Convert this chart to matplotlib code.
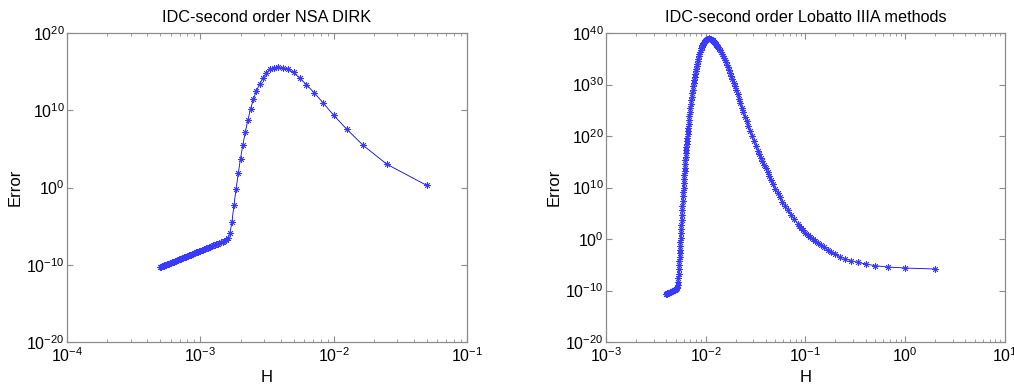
import numpy as np
import matplotlib
matplotlib.use('Agg')
import matplotlib.pyplot as plt
from matplotlib.ticker import NullLocator, LogLocator

plt.rcParams['font.family'] = ['Liberation Sans', 'DejaVu Sans']
plt.rcParams['axes.unicode_minus'] = False

# --- DATA ---
# left panel: NSA DIRK, interval length 0.05 cut into N steps (H = T/N)
T_left = 0.05
steps_left = [1, 2, 3, 4, 5, 6, 7, 8, 9, 10, 11, 12, 13, 14, 15, 16, 17, 18, 19, 20,
              21, 22, 23, 24, 25, 26, 27, 28, 29, 30, 31, 32, 33, 34, 35, 36, 37, 38, 39, 40,
              41, 42, 43, 44, 45, 46, 47, 48, 49, 50, 51, 52, 53, 54, 55, 56, 57, 58, 59, 60,
              61, 62, 63, 64, 65, 66, 67, 68, 69, 70, 71, 72, 73, 74, 75, 76, 77, 78, 79, 80,
              81, 82, 83, 84, 85, 86, 87, 88, 89, 90, 91, 92, 93, 94, 95, 96, 97, 98, 99, 100]
# log10 of the error
log_err_left = [0.26, 3.02, 5.44, 7.56, 9.35, 10.95, 12.26, 13.30, 14.16, 14.89,
                15.28, 15.46, 15.62, 15.53, 15.33, 14.80, 14.16, 13.38, 12.52, 11.44,
                10.19, 8.76, 7.17, 5.53, 3.75, 1.82, -0.21, -2.28, -4.48, -5.90,
                -6.55, -6.80, -6.90, -6.99, -7.08, -7.16, -7.25, -7.33, -7.41, -7.49,
                -7.56, -7.64, -7.71, -7.78, -7.85, -7.92, -7.98, -8.05, -8.11, -8.18,
                -8.24, -8.30, -8.36, -8.41, -8.47, -8.53, -8.58, -8.63, -8.69, -8.74,
                -8.79, -8.84, -8.89, -8.94, -8.99, -9.03, -9.08, -9.12, -9.17, -9.21,
                -9.26, -9.30, -9.34, -9.39, -9.43, -9.47, -9.51, -9.55, -9.59, -9.63,
                -9.66, -9.70, -9.74, -9.78, -9.81, -9.85, -9.89, -9.92, -9.95, -9.99,
                -10.02, -10.06, -10.09, -10.12, -10.16, -10.19, -10.22, -10.25, -10.28, -10.31]

# right panel: Lobatto IIIA, interval length 2
T_right = 2.0
steps_right = [1, 2, 3, 4, 5, 6, 7, 8, 9, 10, 11, 12, 13, 14, 15, 16, 17, 18, 19, 20,
               21, 22, 23, 24, 26, 28, 30, 32, 34, 36, 38, 40, 42, 44, 46, 48, 50, 52,
               54, 56, 58, 60, 63, 66, 69, 72, 75, 78, 81, 84, 87, 90, 93, 96, 99, 102,
               105, 108, 111, 114, 117, 120, 123, 126, 129, 132, 135, 138, 141, 144, 147,
               150, 153, 156, 159, 162, 165, 168, 171, 174, 177, 180, 183, 186, 189, 192,
               195, 198, 201, 204, 207, 210, 213, 216, 219, 222, 225, 228, 231, 234, 237,
               240, 243, 246, 249, 252, 255, 258, 261, 264, 267, 270, 273, 276, 279, 282,
               285, 288, 291, 294, 297, 300, 302, 304, 306, 308, 310, 312, 314, 316, 318,
               320, 322, 324, 326, 328, 330, 332, 334, 336, 338, 340, 342, 344, 346, 348,
               350, 352, 354, 356, 358, 360, 362, 364, 366, 368, 370, 372, 374, 376, 378,
               380, 385, 390, 395, 400, 405, 410, 415, 420, 425, 430, 435, 440, 445, 450,
               455, 460, 465, 470, 475, 480, 485, 490, 495, 500]
log_err_right = [-5.83, -5.63, -5.44, -5.18, -4.85, -4.53, -4.21, -3.82, -3.44, -3.00,
                 -2.52, -2.05, -1.60, -1.18, -0.78, -0.38, 0.02, 0.42, 0.83, 1.25,
                 1.72, 2.15, 2.58, 3.01, 3.87, 4.73, 5.58, 6.43, 7.28, 8.12, 8.96, 9.80,
                 10.62, 11.42, 12.20, 12.96, 13.70, 14.42, 15.12, 15.80, 16.46, 17.10,
                 18.10, 19.08, 20.05, 21.00, 21.92, 22.82, 23.70, 24.62, 25.52, 26.40,
                 27.25, 28.08, 28.88, 29.65, 30.38, 31.06, 31.70, 32.30, 32.86, 33.38,
                 33.86, 34.35, 34.80, 35.22, 35.62, 36.00, 36.35, 36.67, 36.96, 37.23,
                 37.48, 37.71, 37.92, 38.11, 38.28, 38.43, 38.56, 38.68, 38.78, 38.86,
                 38.92, 38.95, 38.93, 38.89, 38.82, 38.73, 38.61, 38.47, 38.30, 38.10,
                 37.88, 37.63, 37.35, 37.04, 36.70, 36.33, 35.93, 35.50, 35.04, 34.55,
                 34.04, 33.55, 33.05, 32.53, 31.99, 31.43, 30.85, 30.25, 29.63, 28.99,
                 28.33, 27.65, 26.95, 26.23, 25.49, 24.73, 23.95, 23.15, 22.33, 21.49,
                 20.90, 20.30, 19.70, 19.10, 18.50, 17.90, 17.28, 16.64, 15.98, 15.30,
                 14.60, 13.88, 13.14, 12.38, 11.60, 10.80, 9.98, 9.14, 8.28, 7.40,
                 6.50, 5.58, 4.64, 3.70, 2.80, 1.95, 1.10, 0.28, -0.52, -1.30,
                 -2.06, -2.80, -3.54, -4.28, -5.05, -5.85, -6.70, -7.60, -8.40, -8.95,
                 -9.35, -9.55, -9.67, -9.75, -9.82, -9.88, -9.93, -9.98, -10.03, -10.08,
                 -10.12, -10.16, -10.21, -10.26, -10.30, -10.34, -10.39, -10.43, -10.48, -10.53,
                 -10.58, -10.62, -10.67, -10.72]

titles = ['IDC-second order NSA DIRK', 'IDC-second order Lobatto IIIA methods']

AXIS_GRAY = '#8c8c8c'
asterisk = (8, 2, 0)   # + and x together, like matlab '*'


def style_axes(ax, title, xlim, ylim, yticks):
    ax.set_xscale('log')
    ax.set_yscale('log')
    ax.set_xlim(xlim)
    ax.set_ylim(ylim)
    ax.set_yticks(yticks)
    ax.yaxis.set_minor_locator(NullLocator())
    ax.xaxis.set_minor_locator(LogLocator(base=10, subs=np.arange(2, 10), numticks=20))
    ax.tick_params(which='both', direction='in', top=True, right=True,
                   color=AXIS_GRAY, labelcolor='black', labelsize=11.5)
    ax.tick_params(which='major', length=4, width=0.8)
    ax.tick_params(which='minor', length=2.2, width=0.6)
    ax.tick_params(axis='y', pad=1.5)
    ax.tick_params(axis='x', pad=3)
    for sp in ax.spines.values():
        sp.set_color(AXIS_GRAY)
        sp.set_linewidth(0.9)
    ax.set_title(title, fontsize=11.7, pad=8)
    ax.set_xlabel('H', fontsize=12, labelpad=4)
    ax.set_ylabel('Error', fontsize=12, labelpad=3)


fig = plt.figure(figsize=(10.14, 3.91), dpi=100)
ax1 = fig.add_axes([0.0661, 0.1253, 0.3945, 0.7903])
ax2 = fig.add_axes([0.5976, 0.1253, 0.3935, 0.7903])

h_left = T_left / np.array(steps_left, dtype=float)
h_right = T_right / np.array(steps_right, dtype=float)

for ax, h, le in [(ax1, h_left, log_err_left), (ax2, h_right, log_err_right)]:
    ax.plot(h, 10.0 ** np.array(le), color='#0000ff', linewidth=0.6,
            marker=asterisk, markersize=4.8, markeredgewidth=0.6,
            markeredgecolor='#3a3aff')

style_axes(ax1, titles[0], (1e-4, 1e-1), (1e-20, 1e20), [1e-20, 1e-10, 1e0, 1e10, 1e20])
style_axes(ax2, titles[1], (1e-3, 1e1), (1e-20, 1e40),
           [1e-20, 1e-10, 1e0, 1e10, 1e20, 1e30, 1e40])

fig.savefig('out.png', dpi=100)
